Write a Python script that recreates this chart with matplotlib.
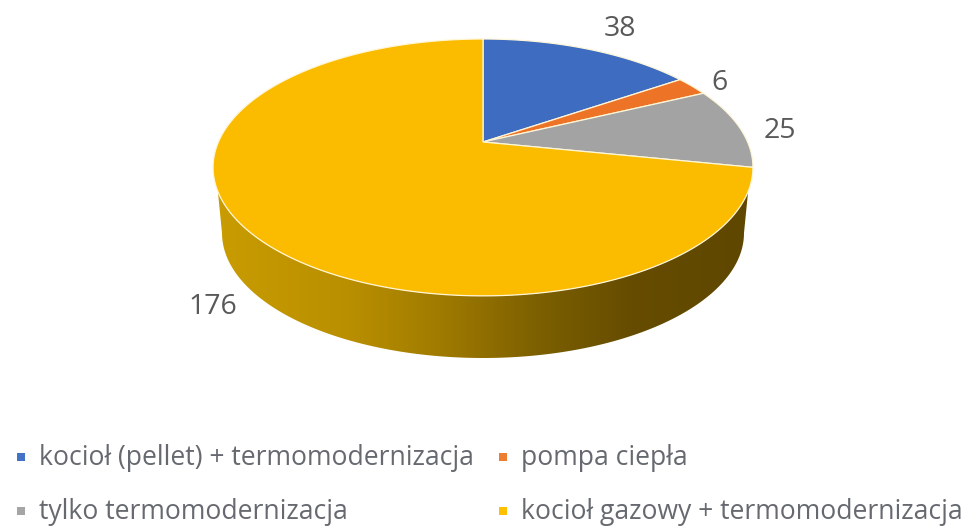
# encoding: utf-8
import numpy as np
import matplotlib
matplotlib.use('Agg')
import matplotlib.pyplot as plt
from matplotlib.colors import LinearSegmentedColormap
from matplotlib.patches import Polygon

plt.rcParams['font.family'] = ['Open Sans', 'DejaVu Sans']

categories = ['kocioł (pellet) + termomodernizacja', 'pompa ciepła',
              'tylko termomodernizacja', 'kocioł gazowy + termomodernizacja']
values = [38, 6, 25, 176]
colors = ['#4472c4', '#ed7d31', '#a5a5a5', '#ffc000']
slice_colors = ['#3d6cc0', '#ed7426', '#a3a3a3', '#fbbc00']
label_pos = [(620, 29), (720, 83), (780, 131), (213, 307)]
legend_pos = [(21, 457), (503, 457), (21, 511), (503, 511)]
wall_colors = ['#c99c00', '#b98f00', '#a07b00', '#7d6000', '#654c00', '#5f4700']
wall_stops = [0.0, 0.25, 0.42, 0.6, 0.78, 1.0]

# picture of the disc: apex of the slices, and perspective squash of the circle
cx, cy = 483, 142
ax_r, by_r, k = 264.6, 123.4, 0.198
# bottom rim of the wall
rim_cy, rim_rx, rim_ry = 233, 261, 125


def project(theta):
    """theta runs clockwise from 12 o'clock, in radians."""
    u, v = np.sin(theta), np.cos(theta)
    w = 1 + k * v
    return cx + ax_r * u / w, cy - by_r * v / w


fig = plt.figure(figsize=(9.69, 5.27), dpi=100)
ax = fig.add_axes([0, 0, 1, 1])
ax.set_xlim(0, 969)
ax.set_ylim(527, 0)
ax.axis('off')

# side wall, gradient clipped to the band under the disc
t = np.linspace(np.radians(96), np.radians(264), 200)
top_x, top_y = project(t)
s = np.linspace(0, np.pi, 200)
low_x = cx - rim_rx * np.cos(s)
low_y = rim_cy + rim_ry * np.sin(s)
wall_xy = np.column_stack([np.r_[top_x, low_x], np.r_[top_y, low_y]])
cmap = LinearSegmentedColormap.from_list('wall', list(zip(wall_stops, wall_colors)))
wall = Polygon(wall_xy, closed=True, transform=ax.transData, fc='none', ec='none')
ax.add_patch(wall)
img = ax.imshow(np.linspace(0, 1, 256)[None, :], extent=(215, 750, 360, 185),
                cmap=cmap, aspect='auto', zorder=1)
img.set_clip_path(wall)
ax.set_xlim(0, 969)
ax.set_ylim(527, 0)

# top of the disc
edges = np.cumsum([0] + values) / sum(values) * 2 * np.pi
for a, b, c in zip(edges[:-1], edges[1:], slice_colors):
    th = np.linspace(a, b, 300)
    x, y = project(th)
    ax.fill(np.r_[cx, x], np.r_[cy, y], fc=c, ec='#fff6d8', lw=0.9, zorder=2,
            joinstyle='round')

for v, (x, y) in zip(values, label_pos):
    ax.text(x, y, str(v), ha='center', va='center', fontsize=20.5, color='#595959')

for name, c, (x, y) in zip(categories, colors, legend_pos):
    ax.plot([x], [y], 's', ms=5.5, color=c, mew=0)
    ax.text(x + 18, y + 1, name, ha='left', va='center', fontsize=19.1, color='#666a70')

fig.savefig('out.png', dpi=100)
